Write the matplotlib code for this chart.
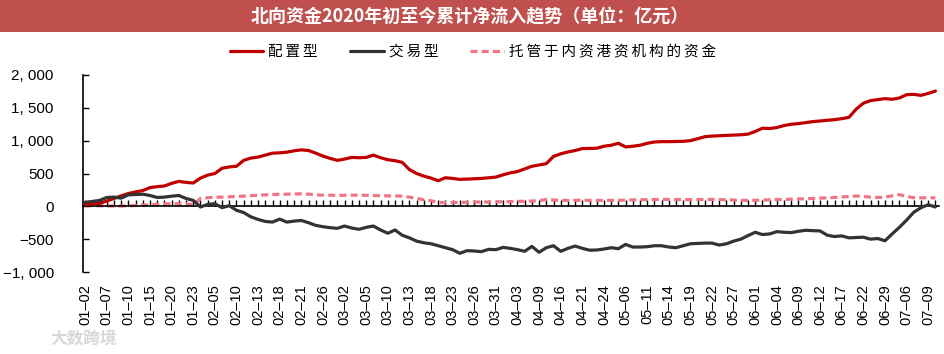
import matplotlib
matplotlib.use("Agg")
import matplotlib.pyplot as plt
from matplotlib.patches import Rectangle
from matplotlib.ticker import MultipleLocator, FuncFormatter

# ---------------- data ----------------
tick_labels = ["01-02", "01-07", "01-10", "01-15", "01-20", "01-23", "02-05", "02-10",
               "02-13", "02-18", "02-21", "02-26", "03-02", "03-05", "03-10", "03-13",
               "03-18", "03-23", "03-26", "03-31", "04-03", "04-09", "04-16", "04-21",
               "04-24", "05-06", "05-11", "05-14", "05-19", "05-22", "05-27", "06-01",
               "06-04", "06-09", "06-12", "06-17", "06-22", "06-29", "07-06", "07-09"]

allocation = [30, 38, 45, 80, 120, 160, 195, 220, 240, 285,
              300, 310, 350, 380, 365, 355, 430, 475, 500, 580,
              600, 610, 700, 735, 750, 780, 810, 815, 825, 845,
              860, 850, 810, 765, 730, 700, 720, 745, 740, 745,
              780, 740, 710, 695, 670, 560, 500, 460, 430, 390,
              435, 425, 410, 415, 420, 425, 435, 445, 480, 510,
              530, 570, 610, 630, 650, 760, 800, 828, 850, 880,
              882, 885, 915, 930, 960, 905, 915, 930, 960, 980,
              985, 985, 988, 990, 1000, 1030, 1060, 1070, 1075, 1080,
              1085, 1090, 1100, 1140, 1190, 1185, 1200, 1230, 1250, 1260,
              1275, 1290, 1300, 1310, 1320, 1335, 1355, 1480, 1570, 1610,
              1625, 1640, 1630, 1650, 1700, 1705, 1690, 1720, 1755]

trading = [60, 75, 90, 135, 140, 125, 175, 180, 185, 165,
           135, 140, 155, 165, 120, 90, -10, 30, 40, -20,
           10, -60, -95, -160, -200, -230, -240, -195, -240, -225,
           -215, -250, -290, -310, -325, -335, -300, -330, -350, -320,
           -300, -360, -410, -360, -440, -480, -530, -555, -570, -600,
           -630, -660, -715, -675, -680, -690, -655, -660, -625, -640,
           -660, -685, -610, -700, -630, -600, -685, -640, -605, -640,
           -668, -665, -650, -630, -645, -580, -620, -620, -615, -600,
           -600, -620, -630, -600, -570, -565, -560, -560, -590, -570,
           -530, -500, -445, -395, -430, -420, -385, -395, -400, -380,
           -365, -370, -375, -440, -460, -450, -480, -475, -470, -500,
           -490, -525, -420, -320, -210, -90, -20, 25, -10]

custody = [10, 10, 8, 6, 5, 5, 8, 12, 18, 25,
           30, 38, 40, 40, 42, 20, 120, 132, 138, 140,
           145, 150, 155, 162, 168, 175, 180, 183, 185, 188,
           190, 185, 175, 170, 170, 168, 168, 170, 170, 168,
           165, 162, 160, 158, 155, 140, 120, 100, 85, 60,
           55, 58, 60, 62, 65, 65, 65, 68, 70, 72,
           75, 78, 80, 85, 105, 95, 90, 90, 92, 92,
           90, 90, 92, 90, 90, 95, 98, 100, 102, 104,
           105, 105, 104, 103, 102, 104, 105, 105, 104, 100,
           96, 92, 90, 92, 95, 100, 104, 105, 108, 112,
           116, 120, 125, 130, 135, 142, 150, 157, 150, 140,
           135, 140, 160, 178, 150, 132, 130, 130, 130]

series_names = ["配置型", "交易型", "托管于内资港资机构的资金"]
title = "北向资金2020年初至今累计净流入趋势（单位：亿元）"

# ---------------- figure ----------------
W, H = 945, 354
fig = plt.figure(figsize=(W / 100, H / 100), dpi=100)

CJK = ["Noto Sans CJK SC", "DejaVu Sans"]
LAT = "Liberation Sans"

# title bar
fig.patches.append(Rectangle((0, 1 - 32 / H), 1, 32 / H, transform=fig.transFigure,
                             facecolor="#C0504D", edgecolor="none", zorder=0))
fig.text(0.497, 1 - 16.5 / H, title, ha="center", va="center", color="white",
         fontsize=13, fontweight="bold", family=CJK)

ax = fig.add_axes([83 / W, 1 - 272 / H, (939 - 83) / W, (272 - 75) / H])

x = list(range(len(allocation)))
l1, = ax.plot(x, allocation, color="#C00000", lw=2.3, solid_capstyle="round", zorder=3)
l2, = ax.plot(x, trading, color="#333333", lw=2.3, solid_capstyle="round", zorder=3)
l3, = ax.plot(x, custody, color="#F07584", lw=2.3, dashes=(2.2, 1.3), zorder=2)

ax.set_ylim(-1000, 2000)
ax.set_xlim(-0.3, len(allocation) - 0.5)

for s in ["top", "right"]:
    ax.spines[s].set_visible(False)
ax.spines["bottom"].set_position(("data", 0))
ax.spines["bottom"].set_linewidth(1.2)
ax.spines["left"].set_linewidth(1.2)
ax.spines["left"].set_color("black")

ax.yaxis.set_major_locator(MultipleLocator(500))
def yfmt(v, pos):
    v = int(round(v))
    s = f"{abs(v):,}".replace(",", ", ")
    return ("\u2212" + s) if v < 0 else s
ax.yaxis.set_major_formatter(FuncFormatter(yfmt))
ax.tick_params(axis="y", direction="in", length=4, width=1, pad=21, labelsize=11)
for t in ax.get_yticklabels():
    t.set_family(LAT)

ax.set_xticks(list(range(0, 3 * len(tick_labels), 3)))
ax.set_xticklabels([t.replace("-", "\u2013") for t in tick_labels], rotation=90,
                   family=LAT, fontsize=10.5)
ax.set_xticks(x, minor=True)
ax.tick_params(axis="x", which="both", direction="in", length=4, width=1, pad=56)
ax.tick_params(axis="x", which="major", labelsize=10.5)

# legend
leg_labels = ["\u2009".join(n) for n in series_names]
leg = fig.legend([l1, l2, l3], leg_labels, loc="center",
                 bbox_to_anchor=(473 / W, 1 - 52 / H), ncol=3, frameon=False,
                 handlelength=2.3, handletextpad=0.35, columnspacing=2.2,
                 prop={"family": CJK, "size": 10.5})

# watermark
fig.text(50 / W, 1 - 338 / H, "大数跨境", ha="left", va="center", color="#d8d8d8",
         fontsize=12, family=CJK, fontweight="bold")

fig.savefig("out.png", dpi=100)
